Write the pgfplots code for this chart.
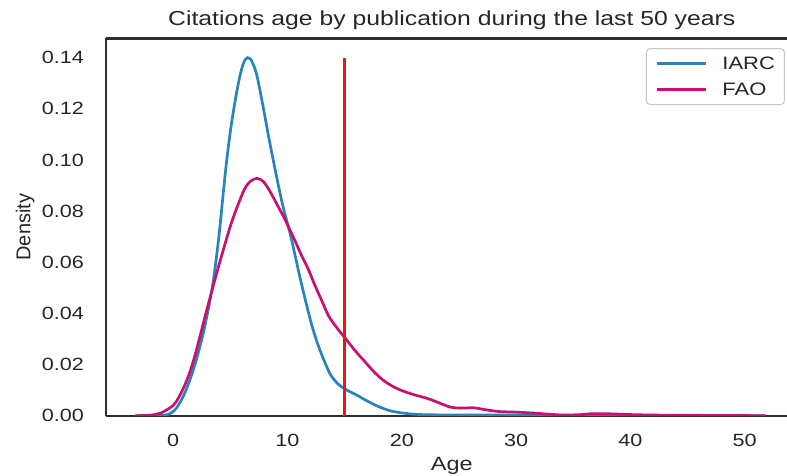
\documentclass[border=0pt]{standalone}
\usepackage{fontspec}
\setmainfont[FakeStretch=1.22]{Liberation Sans}
\newfontfamily\plainsans{Liberation Sans}
\usepackage{pgfplots}
\pgfplotsset{compat=1.18}

\definecolor{iarc}{RGB}{42,130,190}
\definecolor{fao}{RGB}{200,16,110}
\definecolor{vline}{RGB}{235,22,22}
\definecolor{spine}{RGB}{45,45,45}
\definecolor{txt}{RGB}{38,38,38}

\begin{document}
\begin{tikzpicture}
\begin{axis}[
    at={(0,0)}, anchor=south west,
    scale only axis, width=681.3pt, height=377.2pt,
    xmin=-5.9, xmax=53.7, ymin=0, ymax=0.1475,
    axis x line=box, axis y line=left,
    every outer y axis line/.append style={-},
    y axis line style={-},
    axis line style={spine, line width=2.1pt},
    xtick={0,10,20,30,40,50},
    ytick={0,0.02,0.04,0.06,0.08,0.10,0.12,0.14},
    major tick length=0pt,
    scaled y ticks=false,
    /pgf/number format/assume math mode=true,
    yticklabel style={/pgf/number format/fixed, /pgf/number format/fixed zerofill,
        /pgf/number format/precision=2, anchor=east},
    every tick label/.append style={font=\fontsize{17.7}{21}\selectfont, text=txt, inner sep=0pt},
    xticklabel style={anchor=center}, xticklabel shift=25pt,
    yticklabel shift=21.7pt,
    title={Citations age by publication during the last 50 years},
    title style={at={(axis description cs:0.508,1.018)}, anchor=base,
        font=\fontsize{20.3}{24}\selectfont, text=txt},
    xlabel={Age},
    xlabel style={at={(axis description cs:0.508,-0.1330)}, anchor=center,
        font=\fontsize{19.2}{23}\selectfont, text=txt},
    ylabel={Density},
    ylabel style={at={(axis description cs:-0.1180,0.5)}, anchor=center, rotate=0,
        font=\plainsans\fontsize{20}{24}\selectfont, text=txt},
    legend style={at={(axis description cs:0.997,0.9748)}, anchor=north east,
        draw=black!22, line width=1pt, rounded corners=4pt, fill=white,
        font=\fontsize{18}{21}\selectfont, text=txt,
        inner xsep=9.5pt, inner ysep=8pt, row sep=12pt,
        nodes={inner sep=0pt},
        /tikz/every odd column/.append style={column sep=15pt}},
    legend cell align=left,
    legend image code/.code={\draw[#1, line width=2.6pt] (0pt,0pt) -- (49pt,0pt);},
]

% IARC
\addplot[iarc, line width=2.7pt, smooth] coordinates {
    (-3.3,0) (-2,0.0001) (-1,0.0002) (-0.5,0.0004) (0,0.0016) (0.37,0.0035)
    (0.8,0.0068) (1.24,0.0113) (1.7,0.017) (2.1,0.023) (2.7,0.0335)
    (3.28,0.0465) (3.57,0.0545) (4.0,0.070) (4.59,0.096) (5.0,0.111)
    (5.4,0.1225) (5.8,0.1320) (6.1,0.1372) (6.3,0.1392) (6.5,0.1400)
    (6.7,0.1397) (6.9,0.1385) (7.3,0.1335) (7.8,0.1225) (8.4,0.108)
    (9.0,0.0945) (9.6,0.082) (10.3,0.070) (11.15,0.053) (12.0,0.0375)
    (12.5,0.030) (12.9,0.025) (13.4,0.0195) (13.8,0.0158) (14.4,0.0125)
    (15.0,0.0105) (16.0,0.0082) (17.0,0.0057) (18.0,0.0035) (19.0,0.0019)
    (20.0,0.0011) (21.0,0.0006) (22.0,0.0004) (24.0,0.0003) (28.0,0.0003)
    (32.0,0.0002) (35,0.0001) (42,0.0001) (51.8,0)
};
\addlegendentry{IARC}

% FAO
\addplot[fao, line width=2.7pt, smooth] coordinates {
    (-3.3,0) (-2,0.0002) (-1.1,0.001) (0,0.004) (0.5,0.0072) (1.0,0.0118)
    (1.5,0.0175) (2.0,0.025) (2.7,0.0372) (3.57,0.0518) (4.3,0.0635)
    (5.18,0.0765) (6.2,0.0882) (6.8,0.0918) (7.36,0.0928) (7.9,0.0915)
    (8.5,0.0875) (9.1,0.0825) (9.7,0.0775) (10.2,0.0728) (10.6,0.069)
    (11.2,0.063) (11.8,0.0575) (12.4,0.051) (13.0,0.045) (13.6,0.039)
    (14.3,0.0345) (15.0,0.0306) (16.0,0.025) (16.7,0.0215) (17.6,0.017)
    (18.4,0.0138) (19.2,0.0115) (19.9,0.0100) (21.0,0.0083) (22.2,0.0068)
    (23.0,0.0055) (24.3,0.0033) (25.5,0.0030) (26.3,0.0031) (27.5,0.0022)
    (28.6,0.0016) (30.0,0.0014) (31.6,0.0010) (33.9,0.0003) (35.5,0.0004)
    (36.8,0.0008) (38.5,0.0007) (40.3,0.0004) (43.2,0.0002) (48,0.0001)
    (51.8,0)
};
\addlegendentry{FAO}

% threshold at 15 years
\addplot[vline, line width=2.7pt, forget plot] coordinates {(15,0) (15,0.14)};

\end{axis}
\pgfresetboundingbox
\useasboundingbox (-105.7pt,-60.3pt) rectangle (681.3pt,415.7pt);
\end{tikzpicture}
\end{document}
